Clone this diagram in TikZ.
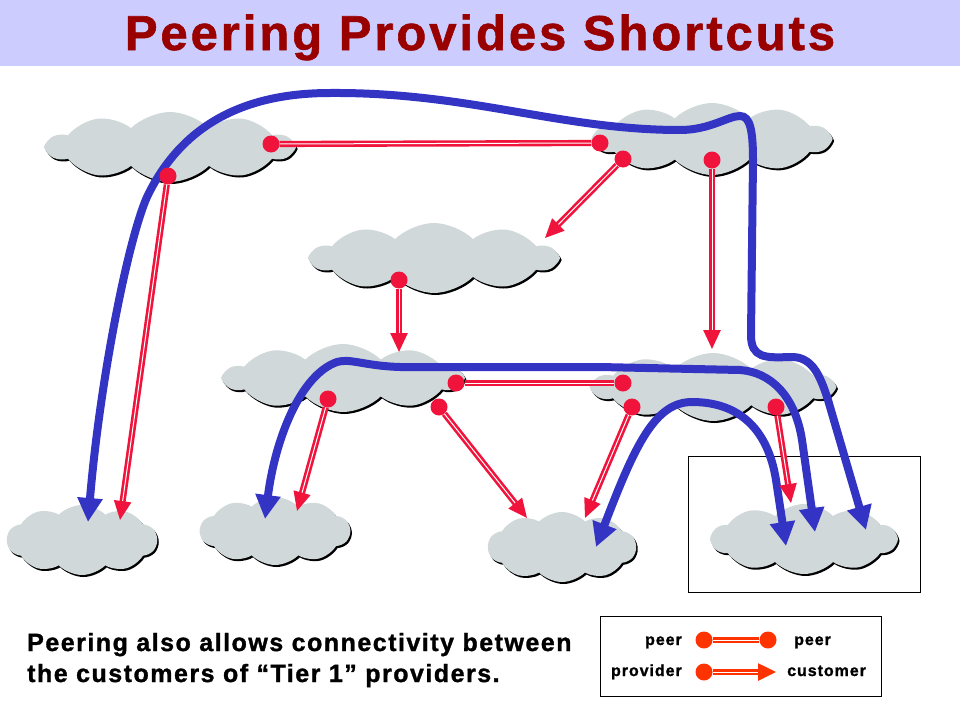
\documentclass[tikz,border=0pt]{standalone}
\usepackage{fontspec}
\newfontfamily\slidefont[LetterSpace=6,BoldFeatures={FakeBold=1.2}]{Liberation Sans}
\usetikzlibrary{arrows.meta,shapes.symbols,shadows}

\definecolor{titlebar}{RGB}{204,204,255}
\definecolor{titlered}{RGB}{153,0,0}
\definecolor{ispgray}{RGB}{208,216,218}
\definecolor{linkred}{RGB}{240,20,60}
\definecolor{legendred}{RGB}{255,51,0}
\definecolor{pathblue}{RGB}{52,52,196}

\begin{document}
\begin{tikzpicture}[
  x=1pt,y=-1pt,
  isp/.style={cloud,cloud puffs=10,cloud puff arc=90,aspect=3,inner sep=0pt,fill=ispgray,
    drop shadow={shadow xshift=1.5pt,shadow yshift=-2pt,opacity=1,fill=black}},
  dot/.style={circle,fill=linkred,inner sep=0pt,minimum size=17pt},
  peerlink/.style={draw=linkred,line width=2.6pt,double=white,double distance=1pt},
  provlink/.style={peerlink,-{Triangle[length=19pt,width=17pt]}},
  route/.style={draw=pathblue,line width=8pt,
    {Triangle[length=24pt,width=24pt]}-{Triangle[length=24pt,width=24pt]}},
  ldot/.style={dot,fill=legendred},
  legpeer/.style={peerlink,draw=legendred},
  legprov/.style={legpeer,-{Triangle[length=18pt,width=17pt]}},
  legtext/.style={inner sep=0pt,font=\slidefont\bfseries\fontsize{16}{19}\selectfont}
]
\useasboundingbox (0,0) rectangle (960,720);

% title
\fill[titlebar] (0,0) rectangle (960,66);
\node[anchor=base,inner sep=0pt,text=titlered,font=\slidefont\bfseries\fontsize{49}{58}\selectfont]
  (title) at (480,50) {Peering Provides Shortcuts};

% providers and customers
\node[isp,minimum width=245pt,minimum height=70pt] (t1west) at (170,147) {};
\node[isp,minimum width=235pt,minimum height=72pt] (t1east) at (712,139) {};
\node[isp,minimum width=245pt,minimum height=70pt] (mid) at (434,258) {};
\node[isp,minimum width=237pt,minimum height=68pt] (left) at (343,378) {};
\node[isp,minimum width=240pt,minimum height=68pt] (right) at (713,387) {};
\node[isp,minimum width=150pt,minimum height=70pt,aspect=2] (cust1) at (82,540) {};
\node[isp,minimum width=150pt,minimum height=68pt,aspect=2] (cust2) at (275,531) {};
\node[isp,minimum width=148pt,minimum height=70pt,aspect=2] (cust3) at (562,547) {};
\node[isp,minimum width=185pt,minimum height=70pt,aspect=2.5] (cust4) at (804,539) {};

\node[draw,line width=0.8pt,minimum width=232pt,minimum height=136pt] (tier1box) at (804,524) {};

% routes through the peering links
\coordinate (aL) at (88,522);
\coordinate (aR) at (866,530);
\coordinate (bL) at (265,519);
\coordinate (bR) at (815,532);
\coordinate (cL) at (596,547);
\coordinate (cR) at (786,546);
\draw[route] (aL) .. controls (100,380) and (128,240) .. (147,197)
  .. controls (180,128) and (240,93) .. (330,93)
  .. controls (470,92) and (560,130) .. (680,130)
  .. controls (710,130) and (728,116) .. (740,116)
  .. controls (750,116) and (753,130) .. (753,160)
  -- (751,335) .. controls (751,358) and (765,358) .. (790,357)
  .. controls (812,356) and (820,375) .. (828,400) -- (aR);
\draw[route] (bL) .. controls (275,440) and (300,375) .. (337,362)
  .. controls (350,358) and (365,366) .. (400,367) -- (600,367) -- (740,370)
  .. controls (770,372) and (795,395) .. (802,440) -- (bR);
\draw[route] (cL) .. controls (635,445) and (655,402) .. (692,402)
  .. controls (740,402) and (768,430) .. (776,480) -- (cR);

% peer and provider links
\node[dot] (w1) at (271,144) {};
\node[dot] (w2) at (168,176) {};
\node[dot] (e1) at (600,143) {};
\node[dot] (e2) at (623,159) {};
\node[dot] (e3) at (712,160) {};
\node[dot] (m1) at (399,280) {};
\node[dot] (l1) at (456,383) {};
\node[dot] (l2) at (328,399) {};
\node[dot] (l3) at (439,407) {};
\node[dot] (r1) at (623,383) {};
\node[dot] (r2) at (632,407) {};
\node[dot] (r3) at (776,407) {};
\coordinate (w2end) at (120,520);
\coordinate (e2end) at (545,238);
\coordinate (e3end) at (712,349);
\coordinate (m1end) at (399,352);
\coordinate (l2end) at (297,511);
\coordinate (l3end) at (527,518);
\coordinate (r2end) at (585,518);
\coordinate (r3end) at (791,503);
\draw[peerlink] (w1) -- (e1);
\draw[peerlink] (l1) -- (r1);
\draw[provlink] (w2) -- (w2end);
\draw[provlink] (e2) -- (e2end);
\draw[provlink] (e3) -- (e3end);
\draw[provlink] (m1) -- (m1end);
\draw[provlink] (l2) -- (l2end);
\draw[provlink] (l3) -- (l3end);
\draw[provlink] (r2) -- (r2end);
\draw[provlink] (r3) -- (r3end);

% note
\node[anchor=base west,inner sep=0pt,font=\slidefont\bfseries\fontsize{25}{30}\selectfont]
  (note1) at (27,651) {Peering also allows connectivity between};
\node[anchor=base west,inner sep=0pt,font=\slidefont\bfseries\fontsize{25}{30}\selectfont]
  (note2) at (27,682) {the customers of “Tier 1” providers.};

% legend
\node[draw,line width=0.8pt,minimum width=281pt,minimum height=80pt] (legend) at (740.5,656) {};
\node[ldot] (lpeer1) at (704,640) {};
\node[ldot] (lpeer2) at (768,640) {};
\node[ldot] (lprov) at (704,672) {};
\coordinate (lcust) at (776,672);
\draw[legpeer] (lpeer1) -- (lpeer2);
\draw[legprov] (lprov) -- (lcust);
\node[legtext,anchor=base east] (lt1) at (682,645) {peer};
\node[legtext,anchor=base west] (lt2) at (794,645) {peer};
\node[legtext,anchor=base east] (lt3) at (682,676) {provider};
\node[legtext,anchor=base west] (lt4) at (787,676) {customer};

\end{tikzpicture}
\end{document}
